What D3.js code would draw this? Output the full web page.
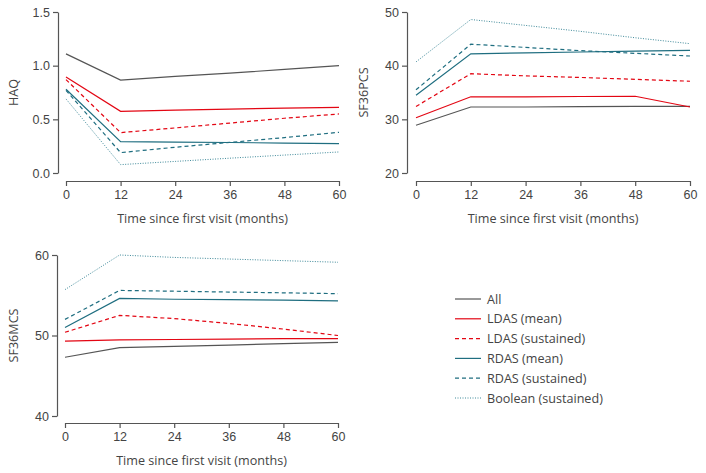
<!DOCTYPE html>
<html lang="en">
<head>
<meta charset="utf-8">
<style>
  body { margin: 0; background: white; }
  svg { font-family: 'Open Sans', sans-serif; }
  .axis path, .axis line { stroke: #555; stroke-width: 1.2; }
  .axis text { fill: #444; font-size: 12.5px; }
  .label { fill: #444; font-size: 12.6px; }
</style>
</head>
<body>
<div id="chart"></div>
<script src="https://d3js.org/d3.v7.min.js"></script>
<script>
// months on x axis
var months = [0, 12, 24, 36, 48, 60];
var seriesNames = ["All", "LDAS (mean)", "LDAS (sustained)", "RDAS (mean)", "RDAS (sustained)", "Boolean (sustained)"];

// HAQ values per series
var haqAll      = [1.11, 0.865, 0.90, 0.93, 0.965, 1.00];
var haqLdasMean = [0.894, 0.575, 0.585, 0.595, 0.605, 0.612];
var haqLdasSus  = [0.87, 0.376, 0.42, 0.465, 0.51, 0.55];
var haqRdasMean = [0.78, 0.292, 0.288, 0.284, 0.279, 0.273];
var haqRdasSus  = [0.77, 0.19, 0.24, 0.285, 0.33, 0.379];
var haqBool     = [0.69, 0.078, 0.108, 0.138, 0.167, 0.196];

// SF36 physical component
var pcsAll      = [28.9, 32.3, 32.3, 32.35, 32.4, 32.4];
var pcsLdasMean = [30.3, 34.2, 34.2, 34.25, 34.3, 32.3];
var pcsLdasSus  = [32.4, 38.5, 38.1, 37.8, 37.45, 37.1];
var pcsRdasMean = [34.5, 42.2, 42.4, 42.55, 42.7, 42.86];
var pcsRdasSus  = [35.5, 44.0, 43.4, 42.8, 42.3, 41.8];
var pcsBool     = [40.7, 48.6, 47.5, 46.4, 45.2, 44.1];

// SF36 mental component
var mcsAll      = [47.3, 48.5, 48.65, 48.8, 49.0, 49.15];
var mcsLdasMean = [49.3, 49.45, 49.5, 49.55, 49.6, 49.6];
var mcsLdasSus  = [50.4, 52.5, 52.1, 51.5, 50.8, 50.0];
var mcsRdasMean = [51.0, 54.6, 54.5, 54.45, 54.4, 54.3];
var mcsRdasSus  = [52.0, 55.6, 55.5, 55.4, 55.3, 55.2];
var mcsBool     = [55.7, 60.0, 59.7, 59.5, 59.3, 59.1];

var haqTicks = [0, 0.5, 1.0, 1.5];
var pcsTicks = [20, 30, 40, 50];
var mcsTicks = [40, 50, 60];

var colors = ["#555555", "#e30613", "#e30613", "#1f6e80", "#1f6e80", "#3f8a9a"];
var dashes = [null, null, "4,3", null, "4,3", "1,1.5"];

var svg = d3.select("#chart").append("svg")
  .attr("width", 706).attr("height", 473);

function drawPanel(p) {
  var x = d3.scaleLinear().domain([0, 60]).range([p.x0, p.x1]);
  var y = d3.scaleLinear().domain(p.ydomain).range([p.y0, p.y1]);

  svg.append("g").attr("class", "axis")
    .attr("transform", "translate(0," + p.xAxisY + ")")
    .call(d3.axisBottom(x).tickValues(months).tickSize(5).tickSizeOuter(0).tickPadding(4));

  svg.append("g").attr("class", "axis")
    .attr("transform", "translate(" + p.yAxisX + ",0)")
    .call(d3.axisLeft(y).tickValues(p.ticks).tickFormat(p.fmt).tickSize(5).tickSizeOuter(0).tickPadding(3));

  svg.append("text").attr("class", "label")
    .attr("x", (p.x0 + p.x1) / 2).attr("y", p.xAxisY + 42)
    .attr("text-anchor", "middle")
    .text("Time since first visit (months)");

  svg.append("text").attr("class", "label")
    .attr("transform", "translate(" + p.titleX + "," + ((p.y0 + p.y1) / 2) + ")rotate(-90)")
    .attr("text-anchor", "middle")
    .text(p.title);

  var line = d3.line().x(function(d, i) { return x(months[i]); }).y(function(d) { return y(d); });

  p.series.forEach(function(s, i) {
    svg.append("path")
      .attr("d", line(s))
      .attr("fill", "none")
      .attr("stroke", colors[i])
      .attr("stroke-width", i == 5 ? 1 : 1.2)
      .attr("stroke-dasharray", dashes[i]);
  });
}

drawPanel({
  x0: 66, x1: 339, y0: 173, y1: 12, ydomain: [0, 1.5], ticks: haqTicks,
  fmt: d3.format(".1f"), xAxisY: 181, yAxisX: 58, titleX: 18, title: "HAQ",
  series: [haqAll, haqLdasMean, haqLdasSus, haqRdasMean, haqRdasSus, haqBool]
});

drawPanel({
  x0: 416, x1: 690, y0: 173, y1: 12, ydomain: [20, 50], ticks: pcsTicks,
  fmt: d3.format("d"), xAxisY: 181, yAxisX: 407, titleX: 368, title: "SF36PCS",
  series: [pcsAll, pcsLdasMean, pcsLdasSus, pcsRdasMean, pcsRdasSus, pcsBool]
});

drawPanel({
  x0: 65, x1: 338, y0: 416, y1: 255, ydomain: [40, 60], ticks: mcsTicks,
  fmt: d3.format("d"), xAxisY: 423, yAxisX: 57, titleX: 18, title: "SF36MCS",
  series: [mcsAll, mcsLdasMean, mcsLdasSus, mcsRdasMean, mcsRdasSus, mcsBool]
});

// legend
var legend = svg.append("g").attr("transform", "translate(455,299)");
seriesNames.forEach(function(name, i) {
  var row = legend.append("g").attr("transform", "translate(0," + (i * 19.8) + ")");
  row.append("line")
    .attr("x1", 0).attr("x2", 26).attr("y1", 0).attr("y2", 0)
    .attr("stroke", colors[i])
    .attr("stroke-width", i == 5 ? 1 : 1.2)
    .attr("stroke-dasharray", dashes[i]);
  row.append("text").attr("class", "label")
    .attr("x", 32).attr("y", 4.5)
    .text(name);
});
</script>
</body>
</html>
